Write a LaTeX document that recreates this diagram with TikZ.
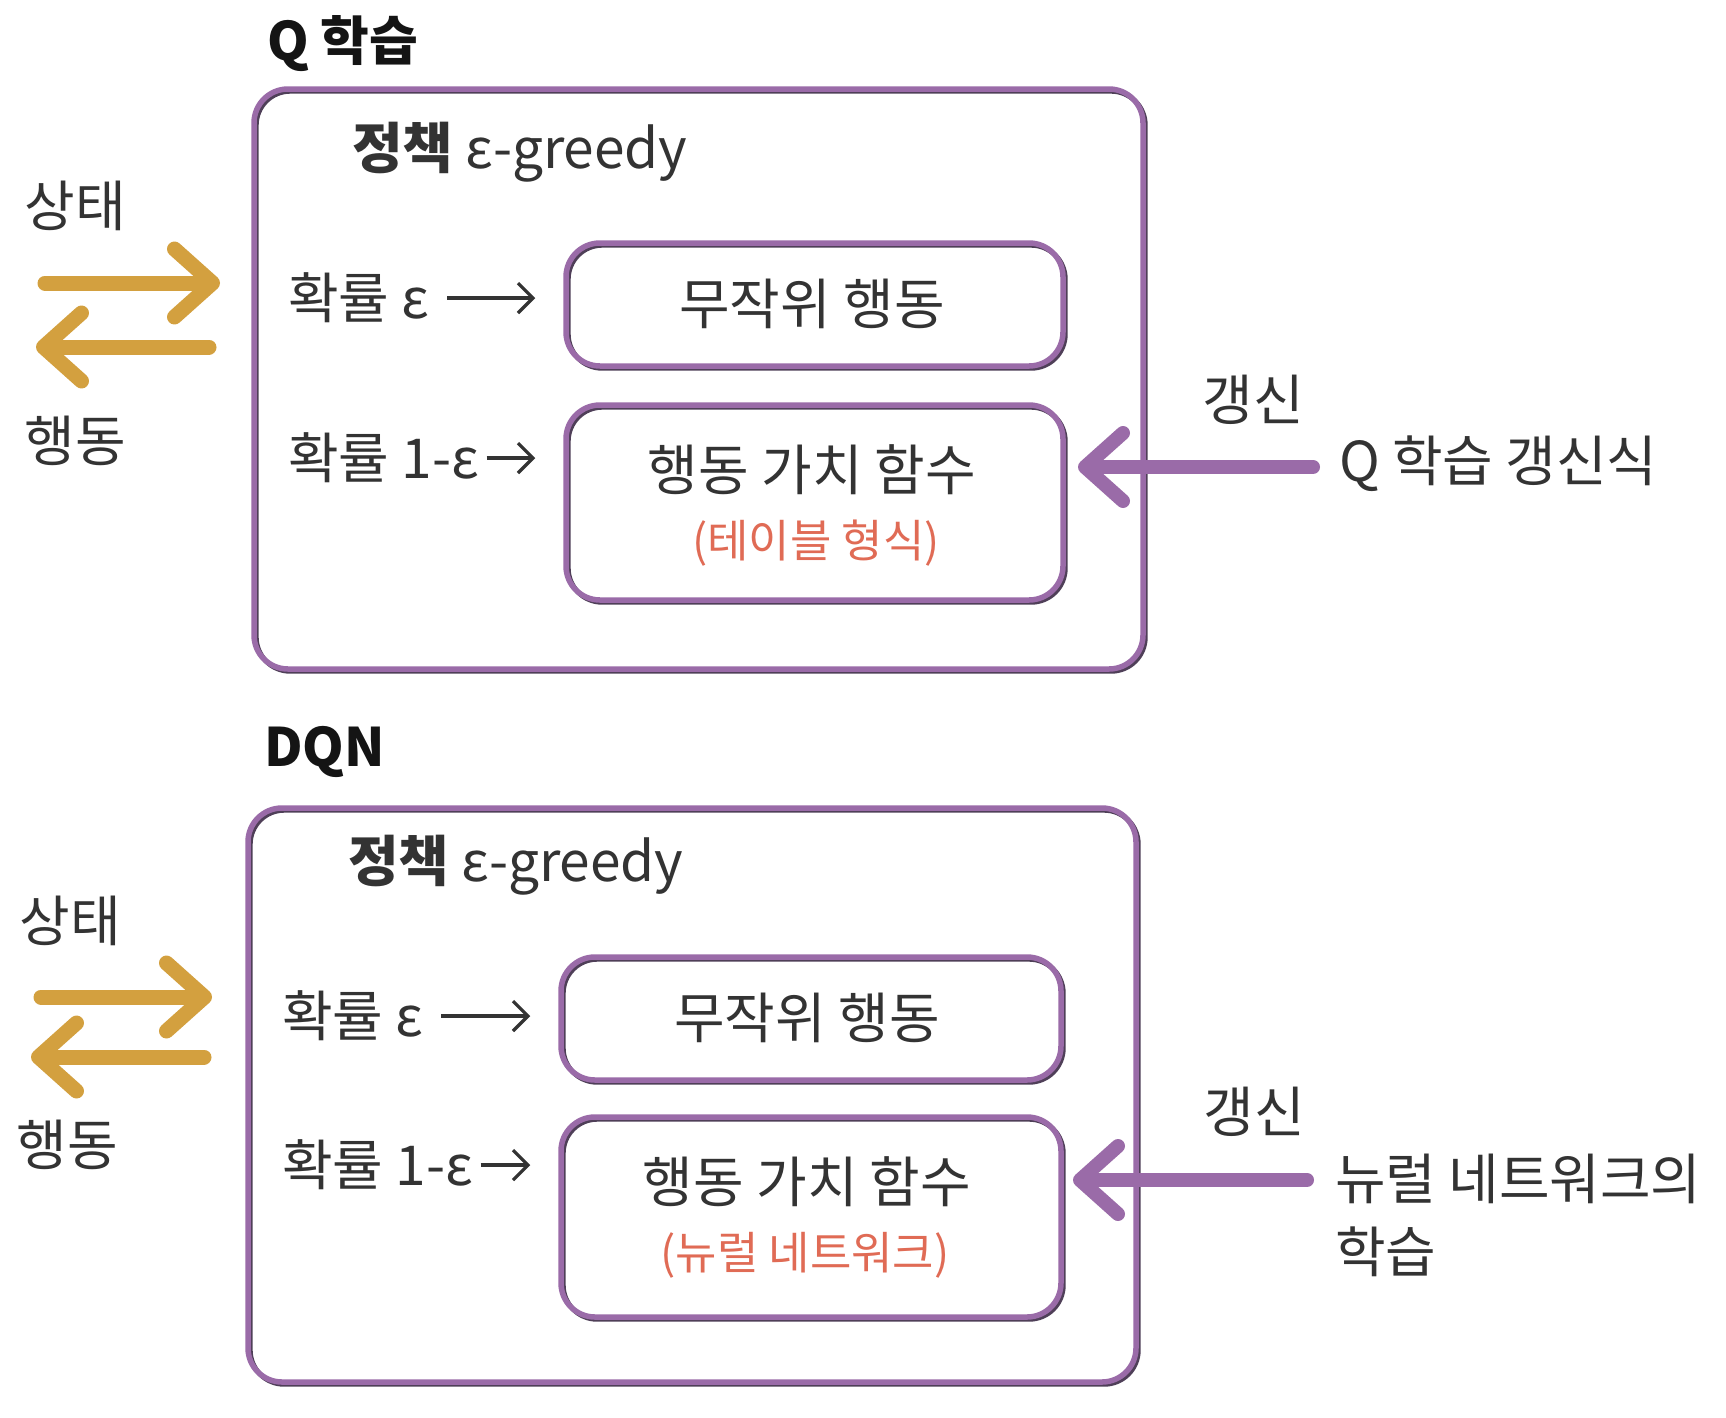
\documentclass[tikz,border=0pt]{standalone}
\usepackage{fontspec}
\setmainfont{Noto Sans CJK KR}
\usetikzlibrary{arrows.meta,calc}
\definecolor{txt}{HTML}{333333}
\definecolor{pur}{HTML}{9A6BA8}
\definecolor{purshadow}{HTML}{4F3F58}
\definecolor{gold}{HTML}{D3A03F}
\definecolor{salmon}{HTML}{E06B55}
\begin{document}
\begin{tikzpicture}[x=1pt,y=-1pt,
  lbl/.style={font=\fontsize{55}{64}\selectfont, text=txt, inner sep=0pt, outer sep=0pt},
  sublbl/.style={font=\fontsize{45}{52}\selectfont, text=salmon, inner sep=0pt},
  ttl/.style={font=\fontsize{53}{62}\selectfont\bfseries, text=black!92, inner sep=0pt},
  frame/.style={draw=pur, line width=5.5pt, rounded corners=34pt, inner sep=0pt,
     preaction={draw=purshadow, line width=5pt, transform canvas={xshift=2.2pt,yshift=-2.2pt}}},
  garrow/.style={draw=gold, line width=15pt, line cap=round, -{Straight Barb[length=38pt,width=68pt,round]}},
  parrow/.style={draw=pur, line width=14pt, line cap=round, -{Straight Barb[length=38pt,width=68pt,round]}},
  tarrow/.style={draw=txt, line width=3.2pt, -{Straight Barb[length=15pt,width=30pt]}},
]
\fill[white] (0,0) rectangle (1726,1417);
\useasboundingbox (0,0) rectangle (1726,1417);

% ---------------- Q learning ----------------
\node[ttl, anchor=west] (t1) at (267,44) {Q 학습};
\node[frame, minimum width=889pt, minimum height=580pt] (o1) at (698.5,379) {};
\node[lbl, anchor=base west] (p1) at (352,168) {\textbf{정책} ε-greedy};
\node[frame, minimum width=497pt, minimum height=123pt] (r1) at (814.5,304.5) {};
\node[frame, minimum width=497pt, minimum height=195pt] (v1) at (814.5,502.5) {};
\node[lbl] (r1t) at (812,304) {무작위 행동};
\node[lbl] (v1t) at (812,470) {행동 가치 함수};
\node[sublbl] (v1s) at (816,543) {(테이블 형식)};
\node[lbl, anchor=west] (e1a) at (288,298) {확률 ε};
\node[lbl, anchor=west] (e1b) at (288,458) {확률 1-ε};
\draw[tarrow, shorten <=18pt, shorten >=28pt] (e1a.east) -- (e1a.east -| r1.west);
\draw[tarrow, shorten <=8pt, shorten >=28pt] (e1b.east) -- (e1b.east -| v1.west);
\node[lbl] (s1) at (75,206) {상태};
\node[lbl] (a1) at (75,441) {행동};
\coordinate (ga1s) at (45,283);  \coordinate (ga1e) at (220,283);
\coordinate (ga2s) at (209,347); \coordinate (ga2e) at (36,347);
\draw[garrow] (ga1s) -- (ga1e);
\draw[garrow] (ga2s) -- (ga2e);
\node[lbl] (g1) at (1253,400) {갱신};
\node[lbl, anchor=west] (q1) at (1339,464) {Q 학습 갱신식};
\coordinate (pu1) at (1313,467);
\coordinate (pt1) at (1078,467);
\draw[parrow] (pu1) -- (pt1);

% ---------------- DQN ----------------
\node[ttl, anchor=west] (t2) at (264,752) {DQN};
\node[frame, minimum width=888pt, minimum height=574pt] (o2) at (692,1095) {};
\node[lbl, anchor=base west] (p2) at (348,881) {\textbf{정책} ε-greedy};
\node[frame, minimum width=500pt, minimum height=123pt] (r2) at (811,1018.5) {};
\node[frame, minimum width=500pt, minimum height=200pt] (v2) at (811,1217) {};
\node[lbl] (r2t) at (807,1018) {무작위 행동};
\node[lbl] (v2t) at (807,1182) {행동 가치 함수};
\node[sublbl] (v2s) at (805,1255) {(뉴럴 네트워크)};
\node[lbl, anchor=west] (e2a) at (282,1016) {확률 ε};
\node[lbl, anchor=west] (e2b) at (282,1165) {확률 1-ε};
\draw[tarrow, shorten <=18pt, shorten >=28pt] (e2a.east) -- (e2a.east -| r2.west);
\draw[tarrow, shorten <=8pt, shorten >=28pt] (e2b.east) -- (e2b.east -| v2.west);
\node[lbl] (s2) at (70,921) {상태};
\node[lbl] (a2) at (67,1145) {행동};
\coordinate (gb1s) at (41,997);   \coordinate (gb1e) at (212,997);
\coordinate (gb2s) at (204,1057); \coordinate (gb2e) at (31,1057);
\draw[garrow] (gb1s) -- (gb1e);
\draw[garrow] (gb2s) -- (gb2e);
\node[lbl] (g2) at (1254,1112) {갱신};
\node[lbl, anchor=west] (n2) at (1335,1179) {뉴럴 네트워크의};
\node[lbl, anchor=west] (n2b) at (1335,1252) {학습};
\coordinate (pu2) at (1307,1180);
\coordinate (pt2) at (1073,1180);
\draw[parrow] (pu2) -- (pt2);
\end{tikzpicture}
\end{document}
